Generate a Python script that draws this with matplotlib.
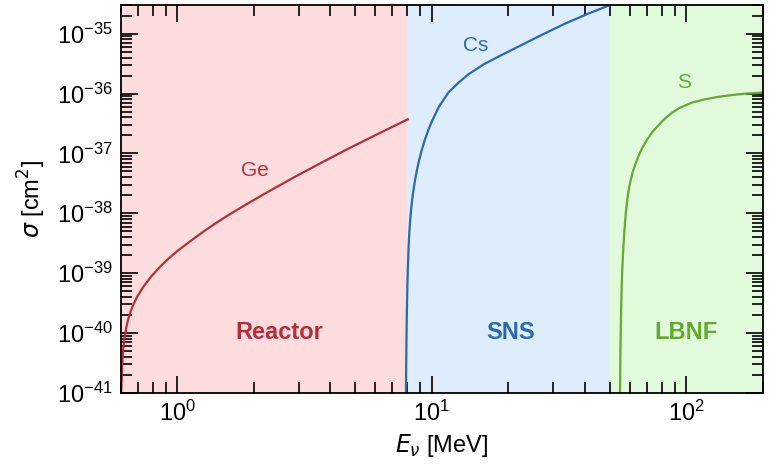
import matplotlib
matplotlib.use('Agg')
import matplotlib.pyplot as plt
from matplotlib.ticker import LogLocator, NullFormatter

plt.rcParams['font.family'] = ['Liberation Sans Narrow', 'Liberation Sans', 'DejaVu Sans']
plt.rcParams['mathtext.fontset'] = 'custom'
plt.rcParams['mathtext.rm'] = 'Liberation Sans Narrow'
plt.rcParams['mathtext.it'] = 'Liberation Sans Narrow:italic'
plt.rcParams['mathtext.bf'] = 'Liberation Sans Narrow:bold'

# neutrino energy [MeV] and cross section [cm^2]
ge_E = [0.601, 0.6026, 0.6042, 0.6069, 0.6097, 0.6152, 0.6209, 0.6321, 0.6436, 0.6553,
        0.6732, 0.6978, 0.7366, 0.7916, 0.8583, 0.9222, 1.0, 1.124, 1.263, 1.407,
        1.567, 1.843, 2.207, 2.642, 3.024, 3.785, 4.741, 6.209, 8.06]
ge_sig = [3e-42, 1e-41, 1.44e-41, 2.56e-41, 3.76e-41, 5.96e-41, 8.1e-41, 1.28e-40, 1.77e-40,
          2.26e-40, 3.02e-40, 4.1e-40, 5.93e-40, 8.85e-40, 1.29e-39, 1.73e-39, 2.33e-39,
          3.4e-39, 4.88e-39, 6.68e-39, 8.98e-39, 1.36e-38, 2.12e-38, 3.26e-38, 4.47e-38,
          7.41e-38, 1.22e-37, 2.16e-37, 3.72e-37]

cs_E = [7.915, 7.923, 7.937, 7.959, 7.987, 8.024, 8.061, 8.111, 8.170, 8.244, 8.318, 8.432,
        8.585, 8.741, 8.899, 9.140, 9.390, 9.734, 10.03, 10.65, 11.65, 12.75, 13.95, 15.97,
        18.27, 21.88, 26.18, 33.38, 41.06, 50.03]
cs_sig = [3e-42, 1e-41, 2.51e-41, 7.88e-41, 2.31e-40, 6.03e-40, 1.25e-39, 2.65e-39, 4.9e-39,
          8.38e-39, 1.28e-38, 2.09e-38, 3.44e-38, 5.17e-38, 7.36e-38, 1.14e-37, 1.67e-37,
          2.56e-37, 3.47e-37, 5.93e-37, 1.05e-36, 1.52e-36, 2.1e-36, 3.06e-36, 4.13e-36,
          6.07e-36, 8.91e-36, 1.47e-35, 2.15e-35, 3.0e-35]

s_E = [54.9, 54.94, 55.04, 55.19, 55.40, 55.64, 55.98, 56.49, 57.10, 57.93, 58.82, 59.88,
       61.52, 64.35, 67.30, 70.41, 73.65, 77.03, 82.05, 88.19, 94.76, 105.5, 117.6, 132.2,
       151.2, 173.1, 201.7]
s_sig = [3e-42, 1e-41, 2.42e-41, 6.31e-41, 1.65e-40, 3.98e-40, 9.62e-40, 2.24e-39, 4.82e-39,
         1.04e-38, 1.85e-38, 2.93e-38, 4.82e-38, 8.25e-38, 1.26e-37, 1.74e-37, 2.28e-37,
         2.82e-37, 3.76e-37, 4.82e-37, 5.84e-37, 7.08e-37, 7.94e-37, 8.75e-37, 9.44e-37,
         1.0e-36, 1.04e-36]

regions = ['Reactor', 'SNS', 'LBNF']
region_edges = [0.6, 8, 50, 200]
region_bg = ['#fcdcdd', '#deedfc', '#e2fadc']
region_fg = ['#b3303b', '#2b68b0', '#64aa30']
region_label_E = [2.53, 20.4, 100]

y_ticks = [1e-41, 1e-40, 1e-39, 1e-38, 1e-37, 1e-36, 1e-35]

fig = plt.figure(figsize=(7.69, 4.66), dpi=100)
ax = fig.add_axes([0.157, 0.157, 0.835, 0.832])

for i in range(3):
    ax.axvspan(region_edges[i], region_edges[i + 1], color=region_bg[i], lw=0, zorder=0)

ax.plot(ge_E, ge_sig, color=region_fg[0], lw=1.6)
ax.plot(cs_E, cs_sig, color=region_fg[1], lw=1.6)
ax.plot(s_E, s_sig, color=region_fg[2], lw=1.6)

ax.set_xscale('log')
ax.set_yscale('log')
ax.set_xlim(0.6, 200)
ax.set_ylim(1e-41, 3e-35)

ax.text(2.02, 5.2e-38, 'Ge', color=region_fg[0], fontsize=15, ha='center', va='center')
ax.text(14.9, 6.3e-36, 'Cs', color=region_fg[1], fontsize=15, ha='center', va='center')
ax.text(98, 1.52e-36, 'S', color=region_fg[2], fontsize=15, ha='center', va='center')

for i in range(3):
    ax.text(region_label_E[i], 1e-40, regions[i], color=region_fg[i], fontsize=17,
            fontweight='bold', ha='center', va='center')

ax.set_yticks(y_ticks)
ax.yaxis.set_minor_locator(LogLocator(base=10, subs=range(2, 10), numticks=20))
ax.yaxis.set_minor_formatter(NullFormatter())
ax.xaxis.set_minor_formatter(NullFormatter())
ax.tick_params(which='both', direction='in', top=True, right=True, labelsize=17,
               width=1.2, pad=6)
ax.tick_params(which='major', length=12)
ax.tick_params(which='minor', length=8)
for sp in ax.spines.values():
    sp.set_linewidth(1.3)

ax.set_xlabel(r'$E_\nu$ [MeV]', fontsize=17, labelpad=4)
ax.set_ylabel(r'$\sigma$ [cm$^2$]', fontsize=17, labelpad=6)

fig.savefig('out.png', dpi=100)
